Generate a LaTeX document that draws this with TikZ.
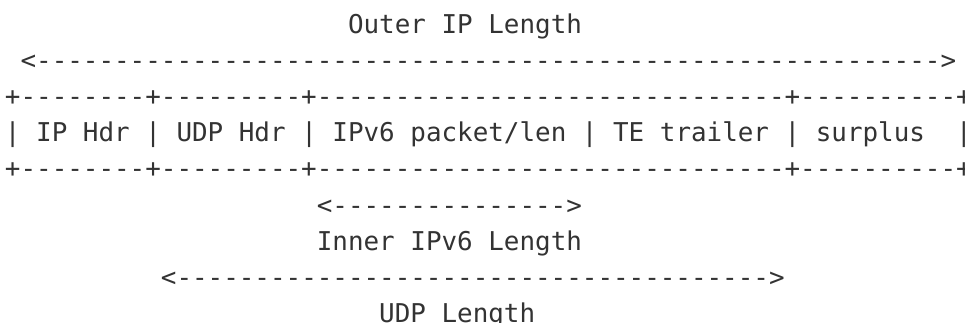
\documentclass[tikz,border=0pt]{standalone}
\usepackage{fontspec}
\setmonofont{DejaVu Sans Mono}
\definecolor{ink}{HTML}{333333}
\tikzset{
  txt/.style={anchor=base west, inner sep=0pt, outer sep=0pt,
    font=\ttfamily\fontsize{25.9pt}{36pt}\selectfont, text=ink}
}
\begin{document}
\begin{tikzpicture}
\useasboundingbox (0pt,0pt) rectangle (965pt,-323pt);
\clip (0pt,0pt) rectangle (965pt,-323pt);
\begin{scope}[shift={(5.0pt,-34pt)}, x=15.593pt, y=-36pt]
% line 1
\node[txt] (outer1) at (22,0) {Outer};
\node[txt] (outer2) at (28,0) {IP};
\node[txt] (outer3) at (31,0) {Length};
% line 2
\node[txt] (outerarrow) at (1,1) {<---------------------------------------------------------->};
% line 3
\node[txt] (topborder) at (0,2) {+--------+---------+------------------------------+----------+};
% line 4
\node[txt] (b0) at (0,3) {|};
\node[txt] (iph1) at (2,3) {IP};
\node[txt] (iph2) at (5,3) {Hdr};
\node[txt] (b1) at (9,3) {|};
\node[txt] (udph1) at (11,3) {UDP};
\node[txt] (udph2) at (15,3) {Hdr};
\node[txt] (b2) at (19,3) {|};
\node[txt] (pkt1) at (21,3) {IPv6};
\node[txt] (pkt2) at (26,3) {packet/len};
\node[txt] (b3) at (37,3) {|};
\node[txt] (te1) at (39,3) {TE};
\node[txt] (te2) at (42,3) {trailer};
\node[txt] (b4) at (50,3) {|};
\node[txt] (surplus) at (52,3) {surplus};
\node[txt] (b5) at (61,3) {|};
% line 5
\node[txt] (botborder) at (0,4) {+--------+---------+------------------------------+----------+};
% line 6
\node[txt] (innerarrow) at (20,5) {<--------------->};
% line 7
\node[txt] (inner1) at (20,6) {Inner};
\node[txt] (inner2) at (26,6) {IPv6};
\node[txt] (inner3) at (31,6) {Length};
% line 8
\node[txt] (udparrow) at (10,7) {<-------------------------------------->};
% line 9
\node[txt] (udp1) at (24,8) {UDP};
\node[txt] (udp2) at (28,8) {Length};
\end{scope}
\end{tikzpicture}
\end{document}
